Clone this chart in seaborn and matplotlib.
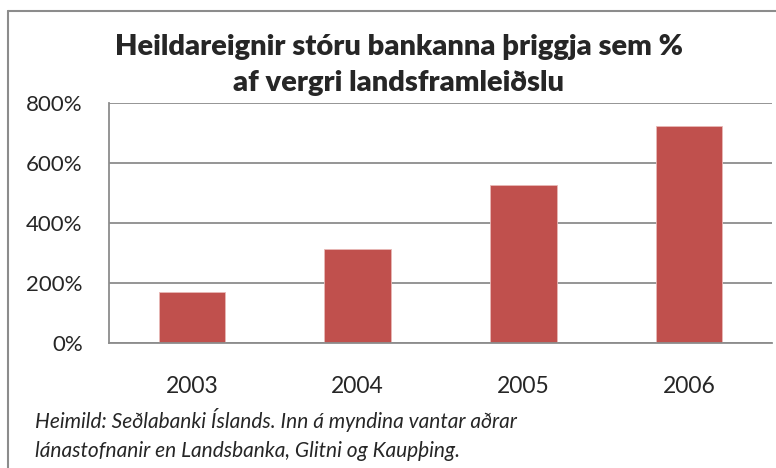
import pandas as pd
import matplotlib.pyplot as plt
import seaborn as sns
from matplotlib.lines import Line2D
from matplotlib.ticker import FuncFormatter, FixedLocator

years = ['2003', '2004', '2005', '2006']
assets_pct = [170, 314, 526, 724]

df = pd.DataFrame({'Ár': years, 'Hlutfall': assets_pct})

sns.set_style('white')
plt.rcParams['font.family'] = ['Lato', 'DejaVu Sans']

fig = plt.figure(figsize=(7.76, 4.68), dpi=100)
ax = fig.add_axes([0.1405, 0.267, 0.8543, 0.512])

sns.barplot(data=df, x='Ár', y='Hlutfall', color='#C0504D', width=0.4,
            saturation=1, edgecolor='#E8B8B6', linewidth=0.6, ax=ax)

ax.set_ylim(0, 800)
ax.set_xlim(-0.5, 3.5)
ax.set_yticks([0, 200, 400, 600, 800])
ax.yaxis.set_major_formatter(FuncFormatter(lambda v, p: f'{int(v)}%'))
ax.grid(axis='y', color='#8C8C8C', linewidth=1.3)
ax.set_axisbelow(True)
ax.set_xlabel('')
ax.set_ylabel('')

for s in ['top', 'right']:
    ax.spines[s].set_visible(False)
for s in ['left', 'bottom']:
    ax.spines[s].set_color('#8C8C8C')
    ax.spines[s].set_linewidth(1.3)

ax.tick_params(axis='y', length=7, width=1.3, color='#8C8C8C', labelsize=16, pad=12)
ax.tick_params(axis='x', which='major', length=0, labelsize=16.5, pad=24)
ax.xaxis.set_minor_locator(FixedLocator([-0.5, 0.5, 1.5, 2.5, 3.5]))
ax.tick_params(axis='x', which='minor', length=7, width=1.3, color='#8C8C8C')

fig.text(0.514, 0.9, 'Heildareignir stóru bankanna þriggja sem %',
         ha='center', va='center', fontsize=21, fontweight='heavy')
fig.text(0.513, 0.823, 'af vergri landsframleiðslu',
         ha='center', va='center', fontsize=21, fontweight='heavy')

fig.text(0.045, 0.0855, 'Heimild: Seðlabanki Íslands. Inn á myndina vantar aðrar',
         ha='left', va='baseline', fontsize=15, style='italic')
fig.text(0.045, 0.0235, 'lánastofnanir en Landsbanka, Glitni og Kaupþing.',
         ha='left', va='baseline', fontsize=15, style='italic')

# only the top and left edges of the chart frame are inside the picture
x0, y0 = 8 / 776, 1 - 11 / 468
fig.add_artist(Line2D([x0, 1], [y0, y0], transform=fig.transFigure,
                      color='#8C8C8C', linewidth=1.5))
fig.add_artist(Line2D([x0, x0], [0, y0], transform=fig.transFigure,
                      color='#8C8C8C', linewidth=1.5))

fig.savefig('out.png', dpi=100)
